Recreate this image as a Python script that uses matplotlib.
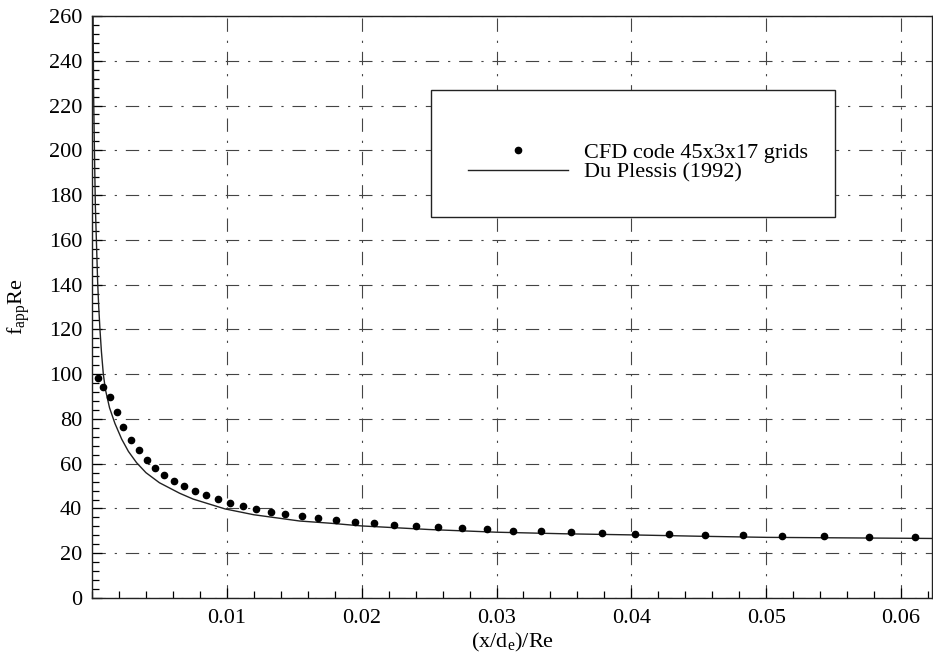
import matplotlib
matplotlib.use("Agg")
import matplotlib.pyplot as plt
from matplotlib.ticker import MultipleLocator
from matplotlib.patches import Rectangle

plt.rcParams['font.family'] = ['Liberation Serif', 'DejaVu Serif']
plt.rcParams['mathtext.fontset'] = 'custom'
plt.rcParams['mathtext.rm'] = 'Liberation Serif'
plt.rcParams['mathtext.it'] = 'Liberation Serif:italic'
plt.rcParams['font.size'] = 16

# CFD results (45x3x17 grid)
cfd_x = [0.00042, 0.00084, 0.00136, 0.00183, 0.00233, 0.0029, 0.00347, 0.00408,
         0.0047, 0.00537, 0.00609, 0.00685, 0.00765, 0.00845, 0.00933, 0.01025,
         0.01119, 0.01218, 0.01324, 0.01435, 0.01557, 0.01678, 0.01811, 0.01947,
         0.02091, 0.02242, 0.024, 0.02569, 0.02745, 0.0293, 0.03125, 0.03333,
         0.03554, 0.03782, 0.04024, 0.04279, 0.04546, 0.04828, 0.0512, 0.05432,
         0.05759, 0.06105]
cfd_y = [98.2, 94.3, 89.8, 83.1, 76.5, 70.7, 66.0, 61.7,
         58.2, 55.0, 52.4, 50.0, 47.9, 45.8, 44.3, 42.6,
         41.2, 39.9, 38.6, 37.6, 36.7, 35.8, 35.0, 34.1,
         33.4, 32.6, 32.2, 31.6, 31.1, 30.7, 30.1, 29.9,
         29.5, 29.2, 28.8, 28.6, 28.3, 28.1, 27.7, 27.7,
         27.3, 27.1]

# Du Plessis (1992) correlation
dp_x = [0.00008, 0.00012, 0.00018, 0.00025, 0.00035, 0.00042, 0.0005, 0.00059,
        0.0007, 0.00084, 0.001, 0.0013, 0.0017, 0.0022, 0.0027, 0.0033,
        0.004, 0.005, 0.0065, 0.0075, 0.00987, 0.012, 0.0154, 0.0177,
        0.02, 0.025, 0.03, 0.035, 0.04, 0.045, 0.05, 0.055, 0.06, 0.0623]
dp_y = [260, 225, 200, 175, 155, 141, 130, 120,
        110, 100, 93, 85, 78, 71, 65.5, 60.5,
        56, 51.5, 46.8, 44.2, 39.8, 37.2, 34.4, 33.4,
        32.2, 30.6, 29.4, 28.7, 28.2, 27.6, 27.1, 26.9, 26.7, 26.6]

x_ticks = [0.01, 0.02, 0.03, 0.04, 0.05, 0.06]
x_tick_labels = ['0.01', '0.02', '0.03', '0.04', '0.05', '0.06']
y_ticks = list(range(0, 261, 20))

fig = plt.figure(figsize=(9.33, 6.53), dpi=100)
ax = fig.add_axes([0.0986, 0.0842, 0.9004, 0.8913])

ax.plot(dp_x, dp_y, color='#222222', lw=1.0, label='Du Plessis (1992)', zorder=3)
ax.plot(cfd_x, cfd_y, ls='none', marker='o', ms=4.5, color='black',
        label='CFD code 45x3x17 grids', zorder=4)

ax.set_xlim(0, 0.0623)
ax.set_ylim(0, 260)
ax.set_xticks(x_ticks)
ax.set_xticklabels(x_tick_labels)
ax.set_yticks(y_ticks)
ax.xaxis.set_minor_locator(MultipleLocator(0.002))
ax.yaxis.set_minor_locator(MultipleLocator(4))
ax.tick_params(which='major', direction='in', length=7, width=0.9, top=False, right=False)
ax.tick_params(which='minor', direction='in', length=5, width=0.9, top=False, right=False)
ax.tick_params(axis='x', pad=8)
ax.tick_params(axis='y', pad=7)

ax.grid(True, which='major', color='#444444', lw=0.8, ls=(0, (12, 8, 2, 8)))

for s in ax.spines.values():
    s.set_linewidth(1.0)
    s.set_color('#222222')

ax.set_xlabel('(x/d$_\\mathrm{e}$)/Re', labelpad=2)
ax.set_ylabel('f$_\\mathrm{app}$Re', labelpad=12)

# legend box
ax.add_patch(Rectangle((0.404, 0.655), 0.481, 0.218, transform=ax.transAxes,
                       facecolor='white', edgecolor='#222222', lw=1.0, zorder=5))
handles, labels = ax.get_legend_handles_labels()
leg = ax.legend(handles[::-1], labels[::-1], loc='center', bbox_to_anchor=(0.65, 0.748),
                frameon=False, numpoints=1, handlelength=4.5, handletextpad=0.7,
                labelspacing=-0.05, fontsize=16)
leg.set_zorder(6)

fig.savefig('out.png', dpi=100)
